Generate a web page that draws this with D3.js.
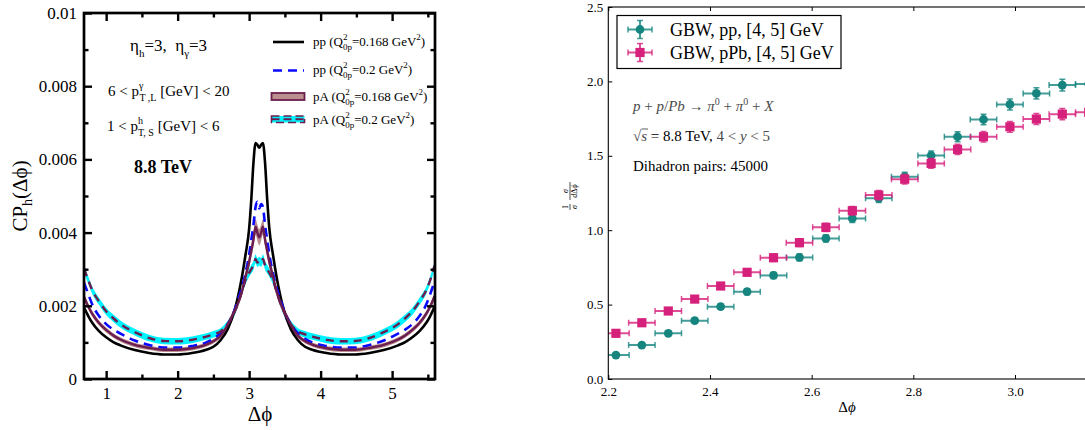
<!DOCTYPE html>
<html><head><meta charset="utf-8">
<script src="https://cdn.jsdelivr.net/npm/d3@7"></script>
<style>
body{margin:0;background:#fff}
svg{display:block}
text{font-family:"Liberation Serif","Times New Roman",serif}
</style>
</head><body>
<svg id="c" width="1085" height="430"></svg>
<script>
// ---------------- Left panel data ----------------
const phi = [0.69,0.75,0.8,0.9,1.0,1.1,1.2,1.4,1.6,1.8,2.0,2.2,2.4,2.5,2.6,2.7,2.8,2.85,2.9,2.95,3.0,3.03,3.06,3.09,3.115,3.1416,
             3.168,3.193,3.223,3.253,3.283,3.333,3.383,3.433,3.483,3.583,3.683,3.783,3.883,4.083,4.283,4.483,4.683,4.883,5.083,5.183,5.283,5.383,5.483,5.533,5.593];
const ppQ168 = [0.00195,0.00172,0.00155,0.00131,0.00114,0.00101,0.00092,0.00079,0.00071,0.00067,0.00067,0.00071,0.00080,0.00088,0.00106,0.00136,0.0019,0.0023,0.0028,0.0034,0.0041,0.0049,0.0059,0.00645,0.0064,0.00632,
                0.0064,0.00645,0.0059,0.0049,0.0041,0.0034,0.0028,0.0023,0.0019,0.00136,0.00106,0.00088,0.0008,0.00071,0.00067,0.00067,0.00071,0.00079,0.00092,0.00101,0.00114,0.00131,0.00155,0.00172,0.00197];
const ppQ20 = [0.00263,0.00232,0.00206,0.00172,0.0015,0.00135,0.00124,0.00105,0.00093,0.00086,0.00086,0.0009,0.001,0.0011,0.00125,0.0015,0.0019,0.0022,0.0025,0.0029,0.0034,0.0038,0.0042,0.0047,0.00484,0.00466,
               0.00478,0.0047,0.0042,0.0038,0.0034,0.0029,0.0025,0.0022,0.0019,0.0015,0.00125,0.0011,0.001,0.0009,0.00086,0.00086,0.00093,0.00105,0.00124,0.00135,0.0015,0.00172,0.00206,0.00232,0.00266];
const pAQ168 = [0.00224,0.00198,0.0018,0.00153,0.00134,0.00119,0.00108,0.00093,0.00085,0.0008,0.0008,0.00084,0.00094,0.00103,0.00118,0.00148,0.00188,0.0021,0.0024,0.0028,0.0032,0.0035,0.0038,0.00416,0.004,0.00387,
                0.004,0.00416,0.0038,0.0035,0.0032,0.0028,0.0024,0.0021,0.00188,0.00148,0.00118,0.00103,0.00094,0.00084,0.0008,0.0008,0.00085,0.00093,0.00108,0.00119,0.00134,0.00153,0.0018,0.00198,0.00226];
const pAQ168Err = [0.00009,0.00008,0.00008,0.00007,0.00007,0.00006,0.00006,0.00006,0.00006,0.00006,0.00006,0.00006,0.00006,0.00006,0.00007,0.00008,0.0001,0.00011,0.00012,0.00014,0.00016,0.00018,0.0002,0.00022,0.00022,0.00022,
                   0.00022,0.00022,0.0002,0.00018,0.00016,0.00014,0.00012,0.00011,0.0001,0.00008,0.00007,0.00006,0.00006,0.00006,0.00006,0.00006,0.00006,0.00006,0.00006,0.00006,0.00007,0.00007,0.00008,0.00008,0.00009];
const pAQ20 = [0.00302,0.0027,0.00245,0.00212,0.00185,0.00166,0.0015,0.00128,0.00112,0.00104,0.00103,0.00107,0.00116,0.00122,0.0013,0.0015,0.00185,0.0021,0.0024,0.0027,0.0029,0.003,0.0031,0.00328,0.00318,0.00322,
               0.00318,0.00328,0.0031,0.003,0.0029,0.0027,0.0024,0.0021,0.00185,0.0015,0.0013,0.00122,0.00116,0.00107,0.00103,0.00104,0.00112,0.00128,0.0015,0.00166,0.00185,0.00212,0.00245,0.0027,0.0031];
const pAQ20Err = [0.00011,0.0001,0.0001,0.0001,0.0001,0.0001,0.0001,0.00009,0.00009,0.00009,0.00009,0.00009,0.00009,0.00009,0.00009,0.00009,0.0001,0.0001,0.0001,0.00011,0.00011,0.00012,0.00012,0.00012,0.00012,0.00012,
                  0.00012,0.00012,0.00012,0.00012,0.00011,0.00011,0.0001,0.0001,0.0001,0.00009,0.00009,0.00009,0.00009,0.00009,0.00009,0.00009,0.00009,0.00009,0.0001,0.0001,0.0001,0.0001,0.0001,0.0001,0.00011];
const leftXTicks = [1,2,3,4,5];
const leftXMinor = [1.5,2.5,3.5,4.5,5.5];
const leftYTicks = [0,0.002,0.004,0.006,0.008,0.01];
const leftYLabels = ["0","0.002","0.004","0.006","0.008","0.01"];
const leftYMinor = [0.001,0.003,0.005,0.007,0.009];

// ---------------- Right panel data ----------------
const dphiBins = [2.215,2.266,2.318,2.370,2.421,2.473,2.525,2.576,2.628,2.680,2.732,2.783,2.835,2.887,2.938,2.990,3.042,3.093,3.145];
const binHalf = 0.026;
const ppVals = [0.161,0.228,0.307,0.392,0.486,0.587,0.696,0.817,0.945,1.079,1.214,1.36,1.502,1.628,1.744,1.845,1.919,1.975,1.982];
const ppErr  = [0.012,0.013,0.015,0.016,0.018,0.02,0.021,0.023,0.025,0.027,0.028,0.03,0.031,0.033,0.035,0.037,0.038,0.039,0.04];
const pPbVals = [0.307,0.378,0.457,0.537,0.625,0.717,0.815,0.916,1.019,1.131,1.236,1.343,1.449,1.543,1.628,1.695,1.747,1.780,1.792];
const pPbErr  = [0.016,0.017,0.019,0.02,0.022,0.023,0.025,0.026,0.028,0.029,0.031,0.032,0.033,0.034,0.035,0.036,0.037,0.038,0.039];
const rightXTicks = [2.2,2.4,2.6,2.8,3.0];
const rightYTicks = [0,0.5,1.0,1.5,2.0,2.5];

const svg = d3.select("#c");
const defs = svg.append("defs");

// ================= LEFT PANEL =================
const L = {x0:84, x1:435, y0:13, y1:379};
const xL = d3.scaleLinear().domain([0.69,5.6]).range([L.x0,L.x1]);
const yL = d3.scaleLinear().domain([0,0.01]).range([L.y1,L.y0]);
defs.append("clipPath").attr("id","clipL").append("rect")
  .attr("x",L.x0).attr("y",L.y0).attr("width",L.x1-L.x0).attr("height",L.y1-L.y0);

const gL = svg.append("g");
const plotL = gL.append("g").attr("clip-path","url(#clipL)");
const lineOf = arr => d3.line().x((d,i)=>xL(phi[i])).y(d=>yL(d)).curve(d3.curveMonotoneX)(arr);
const areaOf = (arr,err) => d3.area().x((d,i)=>xL(phi[i])).y0((d,i)=>yL(d-err[i])).y1((d,i)=>yL(d+err[i])).curve(d3.curveMonotoneX)(arr);

const maroon = "#6b1d4f";
plotL.append("path").attr("d",areaOf(pAQ20,pAQ20Err)).attr("fill","#00f4ff");
plotL.append("path").attr("d",areaOf(pAQ168,pAQ168Err)).attr("fill","#bb8f8f");
plotL.append("path").attr("d",lineOf(ppQ168)).attr("fill","none").attr("stroke","#000").attr("stroke-width",2.6);
plotL.append("path").attr("d",lineOf(ppQ20)).attr("fill","none").attr("stroke","#0a0aff").attr("stroke-width",2.6).attr("stroke-dasharray","9,6");
plotL.append("path").attr("d",lineOf(pAQ168)).attr("fill","none").attr("stroke",maroon).attr("stroke-width",2.4);
plotL.append("path").attr("d",lineOf(pAQ20)).attr("fill","none").attr("stroke",maroon).attr("stroke-width",2.4).attr("stroke-dasharray","8,6");

// axes
function styleAxis(g, w){ g.select(".domain").remove(); g.selectAll(".tick line").attr("stroke","#000").attr("stroke-width",w); g.selectAll("text").attr("fill","#000").style("font-family","'Liberation Serif',serif"); }
gL.append("g").attr("transform",`translate(0,${L.y1})`)
  .call(d3.axisBottom(xL).tickValues(leftXTicks).tickSize(-8).tickPadding(8).tickFormat(d3.format("d")))
  .call(g=>{styleAxis(g,2.4); g.selectAll("text").style("font-size","17px");});
gL.append("g").attr("transform",`translate(0,${L.y1})`)
  .call(d3.axisBottom(xL).tickValues(leftXMinor).tickSize(-4.5).tickFormat(""))
  .call(g=>styleAxis(g,2.4));
gL.append("g").attr("transform",`translate(0,${L.y0})`)
  .call(d3.axisTop(xL).tickValues(leftXTicks).tickSize(-8).tickFormat(""))
  .call(g=>styleAxis(g,2.4));
gL.append("g").attr("transform",`translate(0,${L.y0})`)
  .call(d3.axisTop(xL).tickValues(leftXMinor).tickSize(-4.5).tickFormat(""))
  .call(g=>styleAxis(g,2.4));
gL.append("g").attr("transform",`translate(${L.x0},0)`)
  .call(d3.axisLeft(yL).tickValues(leftYTicks).tickSize(-8).tickPadding(7).tickFormat((d,i)=>leftYLabels[i]))
  .call(g=>{styleAxis(g,2.4); g.selectAll("text").style("font-size","17px");});
gL.append("g").attr("transform",`translate(${L.x0},0)`)
  .call(d3.axisLeft(yL).tickValues(leftYMinor).tickSize(-4.5).tickFormat(""))
  .call(g=>styleAxis(g,2.4));
gL.append("g").attr("transform",`translate(${L.x1},0)`)
  .call(d3.axisRight(yL).tickValues(leftYTicks).tickSize(-8).tickFormat(""))
  .call(g=>styleAxis(g,2.4));
gL.append("g").attr("transform",`translate(${L.x1},0)`)
  .call(d3.axisRight(yL).tickValues(leftYMinor).tickSize(-4.5).tickFormat(""))
  .call(g=>styleAxis(g,2.4));
gL.append("rect").attr("x",L.x0).attr("y",L.y0).attr("width",L.x1-L.x0).attr("height",L.y1-L.y0)
  .attr("fill","none").attr("stroke","#000").attr("stroke-width",2.7);

// axis titles
gL.append("text").attr("x",260).attr("y",421).attr("text-anchor","middle").style("font-size","21px").text("Δϕ");
const yt = gL.append("text").attr("transform","translate(27,196) rotate(-90)").attr("text-anchor","middle").style("font-size","21px");
yt.append("tspan").text("CP");
yt.append("tspan").attr("dy",5).style("font-size","14px").text("h");
yt.append("tspan").attr("dy",-5).text("(Δϕ)");

// annotations
const a1 = gL.append("text").attr("x",130).attr("y",51).style("font-size","17px");
a1.append("tspan").text("η");
a1.append("tspan").attr("dy",6).style("font-size","11px").text("h");
a1.append("tspan").attr("dy",-6).text("=3,\u00a0\u00a0η");
a1.append("tspan").attr("dy",6).style("font-size","11px").text("γ");
a1.append("tspan").attr("dy",-6).text("=3");

function stackedLabel(x,y,pre,sup,sub,post,supW){
  const t = gL.append("text").attr("x",x).attr("y",y).style("font-size","15px");
  t.append("tspan").text(pre);
  t.append("tspan").attr("dy",-7).style("font-size","10px").text(sup);
  t.append("tspan").attr("dx",-supW).attr("dy",12).style("font-size","10px").text(sub);
  t.append("tspan").attr("dy",-5).text(post);
}
stackedLabel(108,96,"6 < p","γ","T ,L"," [GeV] < 20",4);
stackedLabel(107,131,"1 < p","h","T, S"," [GeV] < 6",5);
gL.append("text").attr("x",163).attr("y",173).attr("text-anchor","middle").style("font-size","18px").style("font-weight","bold").text("8.8 TeV");

// legend
function legText(x,y,pre,val){
  const t = gL.append("text").attr("x",x).attr("y",y).style("font-size","13px");
  t.append("tspan").text(pre+" (Q");
  t.append("tspan").attr("dy",-6).style("font-size","9px").text("2");
  t.append("tspan").attr("dx",-4.5).attr("dy",10).style("font-size","9px").text("0p");
  t.append("tspan").attr("dy",-4).text("="+val+" GeV");
  t.append("tspan").attr("dy",-6).style("font-size","9px").text("2");
  t.append("tspan").attr("dy",6).text(")");
}
gL.append("line").attr("x1",273).attr("x2",304).attr("y1",42).attr("y2",42).attr("stroke","#000").attr("stroke-width",2.6);
legText(313,46,"pp","0.168");
gL.append("line").attr("x1",273).attr("x2",304).attr("y1",70.5).attr("y2",70.5).attr("stroke","#0a0aff").attr("stroke-width",2.6).attr("stroke-dasharray","9,6");
legText(313,74,"pp","0.2");
gL.append("rect").attr("x",271.5).attr("y",93).attr("width",33).attr("height",7).attr("fill","#bb8f8f").attr("stroke",maroon).attr("stroke-width",1.8);
legText(313,101,"pA","0.168");
gL.append("rect").attr("x",271.5).attr("y",116).attr("width",33).attr("height",6.5).attr("fill","#00f4ff").attr("stroke",maroon).attr("stroke-width",1.6).attr("stroke-dasharray","8,4");
gL.append("line").attr("x1",271.5).attr("x2",304.5).attr("y1",119.2).attr("y2",119.2).attr("stroke",maroon).attr("stroke-width",2).attr("stroke-dasharray","8,4");
legText(313,124,"pA","0.2");

// ================= RIGHT PANEL =================
const R = {x0:608.3, x1:1087, y0:7, y1:379};
const xR = d3.scaleLinear().domain([2.2,Math.PI]).range([R.x0,R.x1]);
const yR = d3.scaleLinear().domain([0,2.5]).range([R.y1,R.y0]);
defs.append("clipPath").attr("id","clipR").append("rect")
  .attr("x",R.x0).attr("y",R.y0).attr("width",R.x1-R.x0).attr("height",R.y1-R.y0);
const gR = svg.append("g");
const teal = "#17857f", mag = "#d6217c";

function errPoint(g, cx, cy, xl, xr, yt, yb, color, shape){
  const eg = g.append("g");
  eg.append("line").attr("x1",xl).attr("x2",xr).attr("y1",cy).attr("y2",cy).attr("stroke",color).attr("stroke-width",2).attr("stroke-opacity",0.8);
  eg.append("line").attr("x1",cx).attr("x2",cx).attr("y1",yt).attr("y2",yb).attr("stroke",color).attr("stroke-width",2).attr("stroke-opacity",0.8);
  [xl,xr].forEach(x=>eg.append("line").attr("x1",x).attr("x2",x).attr("y1",cy-3).attr("y2",cy+3).attr("stroke",color).attr("stroke-width",1.5).attr("stroke-opacity",0.8));
  [yt,yb].forEach(y=>eg.append("line").attr("x1",cx-3).attr("x2",cx+3).attr("y1",y).attr("y2",y).attr("stroke",color).attr("stroke-width",1.5).attr("stroke-opacity",0.8));
  if(shape==="circle") eg.append("circle").attr("cx",cx).attr("cy",cy).attr("r",4.4).attr("fill",color);
  else eg.append("rect").attr("x",cx-4.6).attr("y",cy-4.6).attr("width",9.2).attr("height",9.2).attr("fill",color);
}
const plotR = gR.append("g").attr("clip-path","url(#clipR)");
dphiBins.forEach((x,i)=>{
  errPoint(plotR, xR(x), yR(ppVals[i]), xR(x-binHalf), xR(x+binHalf), yR(ppVals[i]+ppErr[i]), yR(ppVals[i]-ppErr[i]), teal, "circle");
});
dphiBins.forEach((x,i)=>{
  errPoint(plotR, xR(x), yR(pPbVals[i]), xR(x-binHalf), xR(x+binHalf), yR(pPbVals[i]+pPbErr[i]), yR(pPbVals[i]-pPbErr[i]), mag, "square");
});

// axes
gR.append("g").attr("transform",`translate(0,${R.y1})`)
  .call(d3.axisBottom(xR).tickValues(rightXTicks).tickSize(-4).tickPadding(8).tickFormat(d3.format(".1f")))
  .call(g=>{styleAxis(g,1); g.selectAll("text").style("font-size","13px");});
gR.append("g").attr("transform",`translate(0,${R.y0})`)
  .call(d3.axisTop(xR).tickValues(rightXTicks).tickSize(-4).tickFormat(""))
  .call(g=>styleAxis(g,1));
gR.append("g").attr("transform",`translate(${R.x0},0)`)
  .call(d3.axisLeft(yR).tickValues(rightYTicks).tickSize(-4).tickPadding(5).tickFormat(d3.format(".1f")))
  .call(g=>{styleAxis(g,1); g.selectAll("text").style("font-size","13px");});
gR.append("rect").attr("x",R.x0).attr("y",R.y0).attr("width",R.x1-R.x0).attr("height",R.y1-R.y0)
  .attr("fill","none").attr("stroke","#000").attr("stroke-width",1.1);

// legend
gR.append("rect").attr("x",617).attr("y",15.5).attr("width",224).attr("height",53).attr("fill","#fff").attr("stroke","#000").attr("stroke-width",1.2);
errPoint(gR, 640, 29.5, 628, 652, 20.5, 38.5, teal, "circle");
errPoint(gR, 640, 52.5, 628, 652, 43.5, 61.5, mag, "square");
gR.append("text").attr("x",670).attr("y",35.5).style("font-size","18px").text("GBW, pp, [4, 5] GeV");
gR.append("text").attr("x",670).attr("y",58.5).style("font-size","18px").text("GBW, pPb, [4, 5] GeV");

// annotations
const grey = "#4a4a4a";
const r1 = gR.append("text").attr("x",633).attr("y",111).style("font-size","15px").attr("fill",grey);
r1.append("tspan").style("font-style","italic").text("p");
r1.append("tspan").text(" + ");
r1.append("tspan").style("font-style","italic").text("p");
r1.append("tspan").text("/");
r1.append("tspan").style("font-style","italic").text("Pb");
r1.append("tspan").text(" → ");
r1.append("tspan").style("font-style","italic").text("π");
r1.append("tspan").attr("dy",-6).style("font-size","10px").text("0");
r1.append("tspan").attr("dy",6).text(" + ");
r1.append("tspan").style("font-style","italic").text("π");
r1.append("tspan").attr("dy",-6).style("font-size","10px").text("0");
r1.append("tspan").attr("dy",6).text(" + ");
r1.append("tspan").style("font-style","italic").text("X");

const r2 = gR.append("text").attr("x",633).attr("y",141).style("font-size","15px");
r2.append("tspan").attr("fill",grey).text("√");
r2.append("tspan").attr("fill",grey).style("font-style","italic").text("s");
r2.append("tspan").attr("fill","#000").text(" = 8.8 TeV, ");
r2.append("tspan").attr("fill",grey).text("4 < ");
r2.append("tspan").attr("fill",grey).style("font-style","italic").text("y");
r2.append("tspan").attr("fill",grey).text(" < 5");
gR.append("line").attr("x1",641.5).attr("x2",648).attr("y1",129).attr("y2",129).attr("stroke",grey).attr("stroke-width",0.9);

gR.append("text").attr("x",633).attr("y",171).style("font-size","15px").attr("fill","#000").text("Dihadron pairs: 45000");

// axis titles
const xt = gR.append("text").attr("x",847).attr("y",412).attr("text-anchor","middle").style("font-size","15px");
xt.append("tspan").text("Δ");
xt.append("tspan").style("font-style","italic").text("ϕ");

const yg = gR.append("g").attr("transform","translate(570,194) rotate(-90)").style("font-size","8px");
yg.append("text").attr("x",-13).attr("y",-2).attr("text-anchor","middle").text("1");
yg.append("line").attr("x1",-16).attr("x2",-10).attr("y1",0).attr("y2",0).attr("stroke","#000").attr("stroke-width",0.7);
yg.append("text").attr("x",-13).attr("y",7).attr("text-anchor","middle").style("font-style","italic").text("σ");
yg.append("text").attr("x",3).attr("y",-2).attr("text-anchor","middle").style("font-style","italic").text("σ");
yg.append("line").attr("x1",-6).attr("x2",12).attr("y1",0).attr("y2",0).attr("stroke","#000").attr("stroke-width",0.7);
const dd = yg.append("text").attr("x",3).attr("y",7).attr("text-anchor","middle");
dd.append("tspan").style("font-style","italic").text("d");
dd.append("tspan").text("Δ");
dd.append("tspan").style("font-style","italic").text("ϕ");
</script>
</body></html>
